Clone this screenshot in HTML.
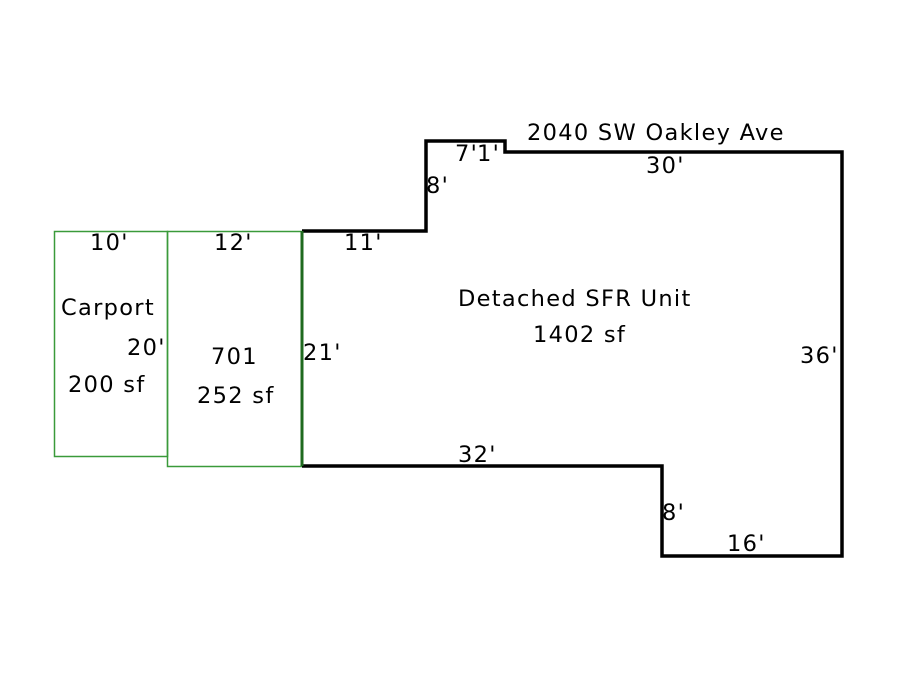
<!DOCTYPE html>
<html><head><style>
body{margin:0;background:#fff;width:900px;height:675px;overflow:hidden}
svg text{font-family:"DejaVu Sans","Liberation Sans",sans-serif;font-size:22.5px;letter-spacing:1.3px;fill:#000}
</style></head><body>
<svg width="900" height="675" xmlns="http://www.w3.org/2000/svg">
<rect x="54.5" y="231.5" width="113" height="225" fill="none" stroke="#3a9a3a" stroke-width="1.5"/>
<rect x="167.5" y="231.5" width="134" height="235" fill="none" stroke="#3a9a3a" stroke-width="1.5"/>
<polyline points="302,231 426,231 426,141 505,141 505,152 842,152 842,556 662,556 662,466 302,466" fill="none" stroke="#000" stroke-width="3.5"/>
<line x1="302" y1="231" x2="302" y2="466" stroke="#1f6a1f" stroke-width="3"/>
<text x="90" y="250">10'</text>
<text x="214" y="250">12'</text>
<text x="61" y="315">Carport</text>
<text x="127" y="355">20'</text>
<text x="68" y="392">200 sf</text>
<text x="211" y="364">701</text>
<text x="197" y="403">252 sf</text>
<text x="303" y="360">21'</text>
<text x="344" y="250">11'</text>
<text x="426" y="193">8'</text>
<text x="455" y="161">7'</text>
<text x="477" y="161">1'</text>
<text x="527" y="140">2040 SW Oakley Ave</text>
<text x="646" y="173">30'</text>
<text x="458" y="306">Detached SFR Unit</text>
<text x="533" y="342">1402 sf</text>
<text x="800" y="363">36'</text>
<text x="458" y="462">32'</text>
<text x="662" y="520">8'</text>
<text x="727" y="551">16'</text>
</svg>
</body></html>
